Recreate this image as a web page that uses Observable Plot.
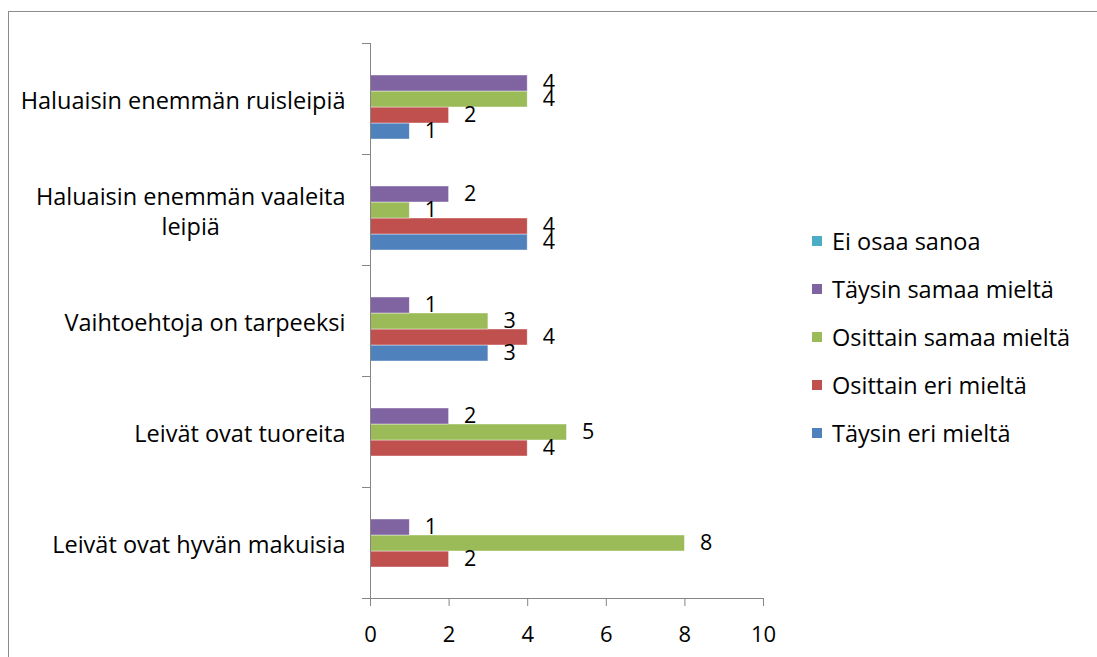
<!DOCTYPE html>
<html><head><meta charset="utf-8">
<script src="https://cdn.jsdelivr.net/npm/d3@7"></script>
<script src="https://cdn.jsdelivr.net/npm/@observablehq/plot@0.6"></script>
<style>
body{margin:0;background:#fff;}
#wrap{position:relative;width:1097px;height:657px;overflow:hidden;font-family:"Open Sans",sans-serif;}
#border{position:absolute;left:8px;top:11px;width:1200px;height:800px;border-left:1px solid #8c8c8c;border-top:1px solid #8c8c8c;box-sizing:border-box;}
#chart{position:absolute;left:0;top:0;}
#legend{position:absolute;left:812px;top:217px;font-size:23.5px;color:#000;}
.li{display:flex;align-items:center;height:48px;white-space:nowrap;}
.sw{width:10px;height:10px;margin-right:10px;flex:none;}
</style></head><body>
<div id="wrap"><div id="border"></div><div id="chart"></div><div id="legend"></div></div>
<script>
const categories = ["Haluaisin enemmän ruisleipiä","Haluaisin enemmän vaaleita leipiä","Vaihtoehtoja on tarpeeksi","Leivät ovat tuoreita","Leivät ovat hyvän makuisia"];
const categoryTickLabels = ["Haluaisin enemmän ruisleipiä","Haluaisin enemmän vaaleita\nleipiä","Vaihtoehtoja on tarpeeksi","Leivät ovat tuoreita","Leivät ovat hyvän makuisia"];
const series = ["Täysin eri mieltä","Osittain eri mieltä","Osittain samaa mieltä","Täysin samaa mieltä","Ei osaa sanoa"];
const colors = ["#4F81BD","#C0504D","#9BBB59","#8064A2","#4BACC6"];
const taysinEri = [1,4,3,null,null];
const osittainEri = [2,4,4,4,2];
const osittainSamaa = [4,1,3,5,8];
const taysinSamaa = [4,2,1,2,1];
const eiOsaa = [null,null,null,null,null];
const xTicks = [0,2,4,6,8,10];

const valuesBySeries = [taysinEri, osittainEri, osittainSamaa, taysinSamaa, eiOsaa];
const rows = [];
series.forEach((s, i) => categories.forEach((c, j) => {
  const v = valuesBySeries[i][j];
  if (v != null) rows.push({category: c, series: s, value: v});
}));

const W = 1097, H = 657, ML = 370, MR = 334, MT = 42, MB = 59;
const axisColor = "#868686";
const font = '"Open Sans", sans-serif';
const FS = 23.5;

const chart = Plot.plot({
  width: W, height: H,
  marginLeft: ML, marginRight: MR, marginTop: MT, marginBottom: MB,
  style: {fontFamily: font, fontSize: FS + "px", color: "#000", background: "transparent", overflow: "visible"},
  x: {domain: [0, 10]},
  y: {domain: series.slice().reverse(), paddingInner: 0, paddingOuter: 0.8, axis: null},
  fy: {domain: categories, padding: 0, axis: null},
  color: {domain: series, range: colors},
  marks: [
    Plot.barX(rows, {x: "value", y: "series", fy: "category", fill: "series", stroke: "#fff", strokeWidth: 0.7, strokeOpacity: 0.6}),
    Plot.text(rows, {x: "value", y: "series", fy: "category", text: d => String(d.value), textAnchor: "start", dx: 15, dy: -0.5, fontSize: 21.5, fill: "#000"}),
    Plot.ruleX([0], {stroke: axisColor}),
    Plot.frame({anchor: "top", stroke: axisColor, strokeOpacity: 1, insetLeft: -8, insetRight: W - ML - MR}),
    Plot.frame({anchor: "bottom", stroke: axisColor, strokeOpacity: 1, insetLeft: -8, facetAnchor: "bottom"}),
    Plot.axisX({ticks: xTicks, tickSize: 8, tickPadding: 20, stroke: axisColor, strokeOpacity: 1, fill: "#000", fontSize: 22, label: null}),
    Plot.axisFy({anchor: "left", tickSize: 0, tickPadding: 25, fontSize: FS, fill: "#000", label: null, lineHeight: 1.3,
      tickFormat: d => categoryTickLabels[categories.indexOf(d)], ariaLabel: "fy-axis"})
  ]
});
document.getElementById("chart").appendChild(chart);

// center the lines of wrapped category labels, as in the reference
chart.querySelectorAll('g[aria-label="fy-axis"] text, g[aria-label="fy-axis tick label"] text').forEach(t => {
  const spans = t.querySelectorAll("tspan");
  if (spans.length > 1) {
    const w = Math.max(...Array.from(spans, s => s.getComputedTextLength()));
    t.setAttribute("text-anchor", "middle");
    spans.forEach(s => s.setAttribute("x", -w / 2));
  }
});

const legend = document.getElementById("legend");
series.slice().reverse().forEach(s => {
  const row = document.createElement("div");
  row.className = "li";
  const sw = document.createElement("span");
  sw.className = "sw";
  sw.style.background = colors[series.indexOf(s)];
  const t = document.createElement("span");
  t.textContent = s;
  row.appendChild(sw); row.appendChild(t);
  legend.appendChild(row);
});
</script>
</body></html>
